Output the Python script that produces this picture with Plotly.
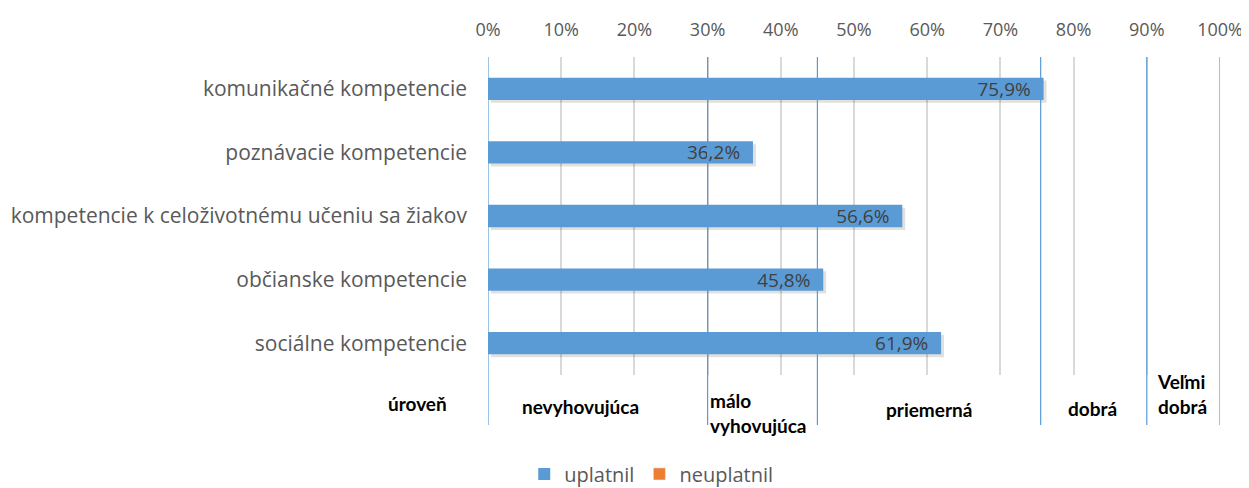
import plotly.graph_objects as go

categories = [
    "komunikačné kompetencie",
    "poznávacie kompetencie",
    "kompetencie k celoživotnému učeniu sa žiakov",
    "občianske kompetencie",
    "sociálne kompetencie",
]
uplatnil = [0.759, 0.362, 0.566, 0.458, 0.619]
neuplatnil = [None, None, None, None, None]

level_bounds = [0.0, 0.30, 0.45, 0.755, 0.90, 1.0]
level_names = ["nevyhovujúca", "málo<br>vyhovujúca", "priemerná", "dobrá", "Veľmi<br>dobrá"]
level_title = "úroveň"

BLUE = "#5b9bd5"
ORANGE = "#ed7d31"
FONT = "Open Sans"
BFONT = "Lato"
BAR_W = 0.35

fig = go.Figure()

# subtle drop shadow like the original
fig.add_trace(go.Bar(
    y=categories, x=uplatnil, orientation="h", base=0.004,
    width=BAR_W, offset=-BAR_W / 2 + 0.045,
    marker=dict(color="rgba(0,0,0,0.12)", line=dict(width=0)),
    showlegend=False, hoverinfo="skip",
))
fig.add_trace(go.Bar(
    y=categories, x=uplatnil, orientation="h", name="uplatnil",
    width=BAR_W, offset=-BAR_W / 2,
    marker=dict(color=BLUE, line=dict(width=0)),
    texttemplate="%{x:.1%}\u00a0\u00a0", textposition="inside", insidetextanchor="end",
    constraintext="none",
    textfont=dict(family=FONT, size=19, color="#404040"),
))
fig.add_trace(go.Bar(
    y=categories, x=neuplatnil, orientation="h", name="neuplatnil",
    width=BAR_W, offset=-BAR_W / 2,
    marker=dict(color=ORANGE),
))

shapes = []
for b in level_bounds:
    shapes.append(dict(type="line", xref="x", yref="paper", x0=b, x1=b,
                       y0=-0.157, y1=1.0, line=dict(color=BLUE, width=1.2),
                       layer="above"))

annotations = []
bold_font = dict(family=BFONT, size=19, color="#000000")
annotations.append(dict(text=f"<b>{level_title}</b>", xref="paper", yref="paper",
                        x=-0.096, y=-0.09, xanchor="center", yanchor="middle",
                        showarrow=False, font=bold_font))
label_x = [0.126, 0.30, 0.602, 0.826, 0.911]
label_y = [-0.10, -0.118, -0.11, -0.104, -0.061]
for i, name in enumerate(level_names):
    if "<br>" in name:
        annotations.append(dict(text=f"<b>{name}</b>", xref="x", yref="paper",
                                x=label_x[i], y=label_y[i], xanchor="left", yanchor="middle",
                                align="left", showarrow=False, font=bold_font))
    else:
        annotations.append(dict(text=f"<b>{name}</b>", xref="x", yref="paper",
                                x=label_x[i], y=label_y[i], xanchor="center",
                                yanchor="middle", showarrow=False, font=bold_font))

# the page places the figure 8 px from the top-left corner
fig.update_layout(
    width=1241, height=480,
    margin=dict(l=480, r=29, t=49, b=113, autoexpand=False),
    paper_bgcolor="white", plot_bgcolor="white",
    barmode="overlay",
    separators=", ",
    font=dict(family=FONT, size=19, color="#595959"),
    xaxis=dict(side="top", range=[0, 1], dtick=0.1, tickformat=".0%",
               showgrid=True, gridcolor="#d9d9d9", gridwidth=1.5,
               zeroline=False, showline=False, ticks="", automargin=False,
               ticklabelstandoff=16,
               tickfont=dict(family=FONT, size=18, color="#595959")),
    yaxis=dict(autorange="reversed", showgrid=False, zeroline=False,
               showline=False, ticks="", ticklabelstandoff=20, automargin=False,
               tickfont=dict(family=FONT, size=21, color="#595959")),
    legend=dict(orientation="h", xref="paper", yref="paper",
                x=0.223, xanchor="center", y=-0.311, yanchor="middle",
                font=dict(family=FONT, size=20, color="#595959"),
                traceorder="normal"),
    shapes=shapes,
    annotations=annotations,
)

fig.write_html("out.html")
